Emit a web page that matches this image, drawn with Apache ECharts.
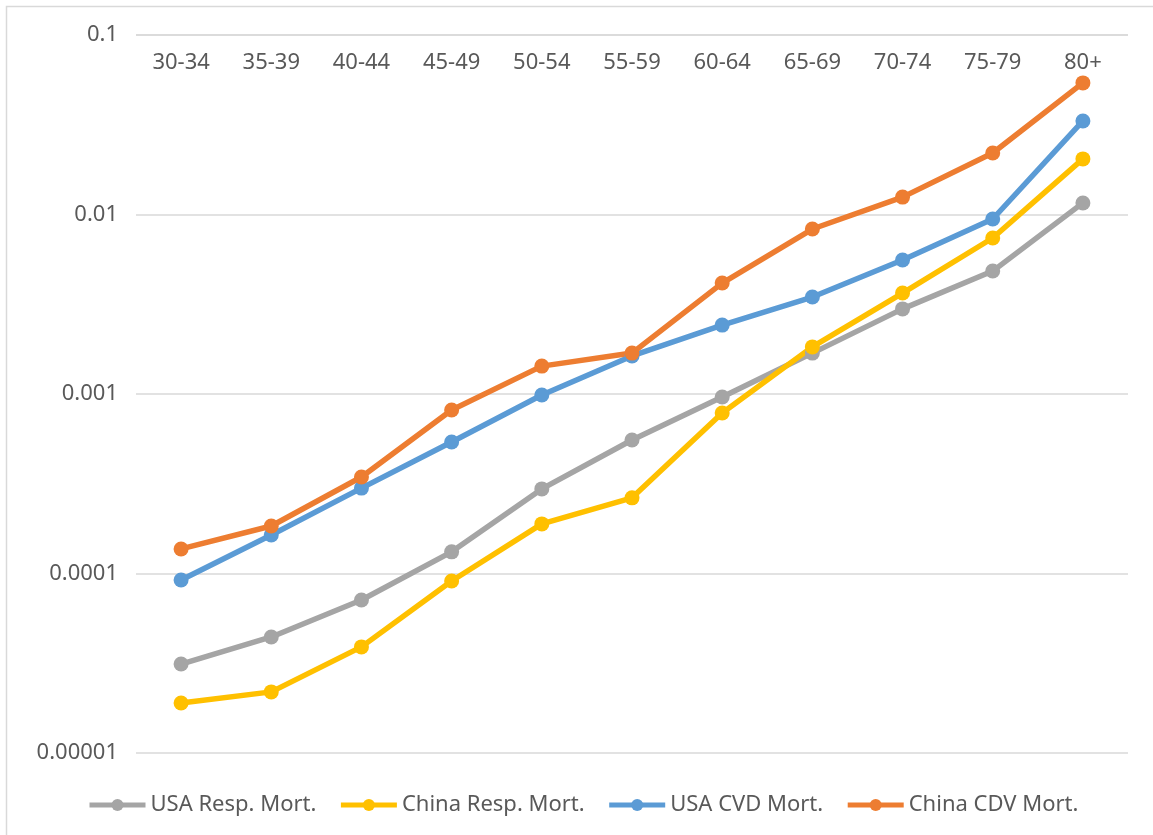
<!DOCTYPE html>
<html>
<head>
<meta charset="utf-8">
<style>
  html, body { margin: 0; padding: 0; background: #ffffff; }
  #chart { width: 1153px; height: 835px; }
</style>
<script src="https://cdn.jsdelivr.net/npm/echarts@6/dist/echarts.min.js"></script>
</head>
<body>
<div id="chart"></div>
<script>
// Age groups along the category axis
const ageGroups = ['30-34', '35-39', '40-44', '45-49', '50-54', '55-59', '60-64', '65-69', '70-74', '75-79', '80+'];

// Mortality rates per age group
const usaResp   = [3.13e-5, 4.43e-5, 7.12e-5, 1.32e-4, 2.96e-4, 5.54e-4, 9.62e-4, 1.69e-3, 2.98e-3, 4.84e-3, 1.16e-2];
const chinaResp = [1.90e-5, 2.19e-5, 3.90e-5, 9.08e-5, 1.89e-4, 2.64e-4, 7.84e-4, 1.83e-3, 3.65e-3, 7.40e-3, 2.04e-2];
const usaCvd    = [9.20e-5, 1.64e-4, 2.99e-4, 5.40e-4, 9.87e-4, 1.63e-3, 2.42e-3, 3.47e-3, 5.58e-3, 9.44e-3, 3.32e-2];
const chinaCdv  = [1.37e-4, 1.84e-4, 3.45e-4, 8.15e-4, 1.43e-3, 1.69e-3, 4.15e-3, 8.30e-3, 1.25e-2, 2.20e-2, 5.41e-2];

// Log-axis tick labels, one per decade from 1e-5 up to 1e-1
const yTickLabels = ['0.00001', '0.0001', '0.001', '0.01', '0.1'];

const seriesNames = ['USA Resp. Mort.', 'China Resp. Mort.', 'USA CVD Mort.', 'China CDV Mort.'];
const seriesColors = ['#A5A5A5', '#FFC000', '#5B9BD5', '#ED7D31'];
const seriesData = [usaResp, chinaResp, usaCvd, chinaCdv];

const font = '"Noto Sans", "Open Sans", sans-serif';
const textColor = '#595959';

const chart = echarts.init(document.getElementById('chart'), null, { renderer: 'canvas' });

chart.setOption({
  backgroundColor: '#ffffff',
  animation: false,
  graphic: [{
    type: 'rect',
    shape: { x: 6.5, y: 6.5, width: 1160, height: 840 },
    style: { fill: 'none', stroke: '#D9D9D9', lineWidth: 1.5 },
    silent: true
  }],
  grid: { left: 136, right: 25, top: 35, bottom: 82 },
  legend: {
    bottom: 14,
    left: 82,
    itemWidth: 56,
    itemHeight: 15,
    itemGap: 22,
    lineStyle: { width: 5 },
    textStyle: { color: textColor, fontSize: 22, fontFamily: font },
    data: seriesNames
  },
  xAxis: {
    type: 'category',
    data: ageGroups,
    position: 'top',
    boundaryGap: true,
    axisLine: { show: false },
    axisTick: { show: false },
    axisLabel: {
      inside: true,
      margin: 17,
      color: textColor,
      fontSize: 22,
      fontFamily: font
    }
  },
  yAxis: {
    type: 'log',
    logBase: 10,
    min: 1e-5,
    max: 0.1,
    axisLine: { show: false },
    axisTick: { show: false },
    splitLine: { lineStyle: { color: '#D9D9D9', width: 1.5 } },
    axisLabel: {
      margin: 18,
      color: textColor,
      fontSize: 22,
      fontFamily: font,
      formatter: function (v) {
        const idx = Math.round(Math.log10(v)) + 5;
        return yTickLabels[idx] !== undefined ? yTickLabels[idx] : '';
      }
    }
  },
  series: seriesNames.map(function (name, i) {
    return {
      name: name,
      type: 'line',
      data: seriesData[i],
      symbol: 'circle',
      symbolSize: 15,
      color: seriesColors[i],
      lineStyle: { width: 5.5, color: seriesColors[i] },
      itemStyle: { color: seriesColors[i] }
    };
  })
});
</script>
</body>
</html>
